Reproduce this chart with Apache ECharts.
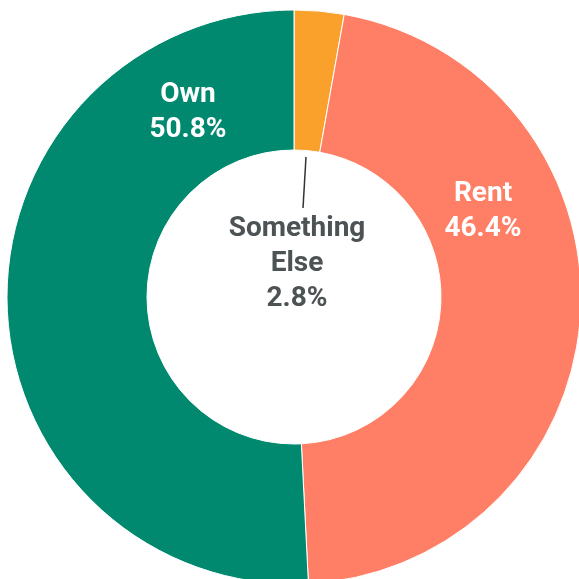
<!DOCTYPE html>
<html>
<head>
<meta charset="utf-8">
<script src="https://cdn.jsdelivr.net/npm/echarts@6/dist/echarts.min.js"></script>
<style>
  html, body { margin: 0; padding: 0; background: #fff; }
  #chart { width: 579px; height: 579px; }
</style>
</head>
<body>
<div id="chart"></div>
<script>
// data, clockwise from 12 o'clock
const categories = ['Something Else', 'Rent', 'Own']
const shares = [2.8, 46.4, 50.8]
const colors = ['#F9A12B', '#FF7F66', '#00896F']
const labelColors = ['#4D5355', '#fff', '#fff']

// where each label block sits (centre of block)
const labelPos = [[297, 264], [483, 211], [188, 112]]

const chart = echarts.init(document.getElementById('chart'))

chart.setOption({
  animation: false,
  series: [{
    type: 'pie',
    center: [294, 297],
    radius: [147, 287],
    startAngle: 90,
    clockwise: true,
    avoidLabelOverlap: false,
    itemStyle: { borderColor: '#fff', borderWidth: 1 },
    label: {
      show: true,
      fontFamily: 'Roboto',
      fontWeight: 'bold',
      fontSize: 28,
      lineHeight: 35,
      align: 'center',
      formatter: p => p.name.replace(' ', '\n') + '\n' + p.value + '%',
    },
    labelLine: { show: false },
    labelLayout: p => ({
      x: labelPos[p.dataIndex][0],
      y: labelPos[p.dataIndex][1],
      align: 'center',
      verticalAlign: 'middle',
      labelLinePoints: p.dataIndex === 0 ? [[306, 157], [303, 208]] : undefined,
    }),
    data: categories.map((c, i) => ({
      name: c,
      value: shares[i],
      itemStyle: { color: colors[i] },
      label: { color: labelColors[i], position: i === 0 ? 'outside' : 'inside' },
      labelLine: i === 0
        ? { show: true, lineStyle: { color: '#333', width: 1.5 } }
        : { show: false },
    })),
  }],
})
</script>
</body>
</html>
